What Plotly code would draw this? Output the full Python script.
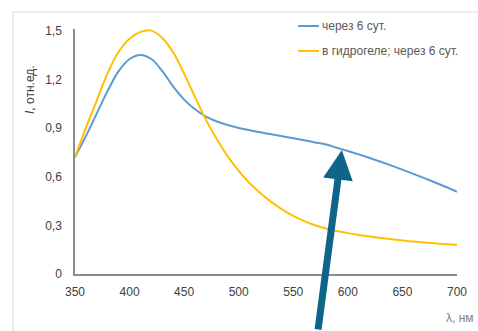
import plotly.graph_objects as go

# Data
wl = [350, 360, 370, 380, 390, 400, 410, 420, 430, 440, 450, 460, 470, 480, 490,
      500, 510, 520, 530, 540, 550, 560, 570, 580, 590, 600, 610, 620, 630,
      640, 650, 660, 670, 680, 690, 700]
i_blue = [0.72, 0.85, 0.99, 1.13, 1.25, 1.325, 1.35, 1.325, 1.25, 1.155, 1.075, 1.015,
          0.97, 0.94, 0.918, 0.90, 0.886, 0.873, 0.861, 0.849, 0.837, 0.824, 0.811,
          0.798, 0.778, 0.758, 0.737, 0.715, 0.692, 0.668, 0.643, 0.617, 0.591, 0.564,
          0.536, 0.507]
i_yellow = [0.72, 0.90, 1.07, 1.24, 1.37, 1.45, 1.492, 1.50, 1.455, 1.365, 1.235, 1.09,
            0.95, 0.83, 0.725, 0.635, 0.56, 0.497, 0.443, 0.397, 0.358, 0.326, 0.30,
            0.28, 0.265, 0.252, 0.241, 0.231, 0.222, 0.214, 0.207, 0.20, 0.194, 0.189,
            0.184, 0.18]

series_names = ["через 6 сут.", "в гидрогеле; через 6 сут."]
x_ticks = [350, 400, 450, 500, 550, 600, 650, 700]
y_ticks = [0, 0.3, 0.6, 0.9, 1.2, 1.5]
y_tick_text = ["0", "0,3", "0,6", "0,9", "1,2", "1,5"]

arrow_tip = (594.5, 0.765)

BLUE = "#5b9bd5"
YELLOW = "#ffc000"
FONT = "Liberation Sans, Arial, sans-serif"

W, H = 478, 331
L, R, T, B = 75, 21, 29, 57
pw, ph = W - L - R, H - T - B

def px(xp):
    return (xp - L) / pw

def py(yp):
    return (H - B - yp) / ph

fig = go.Figure()
fig.add_trace(go.Scatter(x=wl, y=i_blue, mode="lines", name=series_names[0],
                         line=dict(color=BLUE, width=2, shape="spline", smoothing=1),
                         showlegend=False))
fig.add_trace(go.Scatter(x=wl, y=i_yellow, mode="lines", name=series_names[1],
                         line=dict(color=YELLOW, width=2, shape="spline", smoothing=1),
                         showlegend=False))

shapes = [
    # outer light frame
    dict(type="line", xref="paper", yref="paper", x0=px(13), x1=px(W + 5), y0=py(12), y1=py(12),
         line=dict(color="#d9d9d9", width=1)),
    dict(type="line", xref="paper", yref="paper", x0=px(13), x1=px(13), y0=py(12), y1=py(H + 5),
         line=dict(color="#d9d9d9", width=1)),
    # manual legend line samples
    dict(type="line", xref="paper", yref="paper", x0=px(298), x1=px(319), y0=py(26), y1=py(26),
         line=dict(color=BLUE, width=2)),
    dict(type="line", xref="paper", yref="paper", x0=px(298), x1=px(319), y0=py(51), y1=py(51),
         line=dict(color=YELLOW, width=2)),
]

annotations = [
    dict(xref="paper", yref="paper", x=px(320), y=py(26), text=series_names[0], showarrow=False,
         xanchor="left", yanchor="middle", font=dict(family=FONT, size=12, color="#595959")),
    dict(xref="paper", yref="paper", x=px(320), y=py(51), text=series_names[1], showarrow=False,
         xanchor="left", yanchor="middle", font=dict(family=FONT, size=12, color="#595959")),
    dict(xref="paper", yref="paper", x=px(30), y=py(90), text="<i>I</i>, отн.ед.", showarrow=False,
         textangle=-90, xanchor="center", yanchor="middle",
         font=dict(family=FONT, size=12, color="#404040")),
    dict(xref="paper", yref="paper", x=px(476), y=py(318), text="λ, нм", showarrow=False,
         xanchor="right", yanchor="middle", font=dict(family=FONT, size=12, color="#7f7f7f")),
    dict(x=arrow_tip[0], y=arrow_tip[1], xref="x", yref="y", ax=-24, ay=190,
         axref="pixel", ayref="pixel", text="", showarrow=True,
         arrowhead=2, arrowsize=0.85, arrowwidth=7, arrowcolor="#0f6589"),
]

fig.update_layout(
    width=W, height=H,
    margin=dict(l=L, r=R, t=T, b=B),
    paper_bgcolor="white", plot_bgcolor="white",
    font=dict(family=FONT, size=12, color="#404040"),
    shapes=shapes, annotations=annotations,
    xaxis=dict(range=[350, 700], tickvals=x_ticks, showgrid=False, zeroline=False,
               showline=True, linecolor="#8c8c8c", linewidth=1.5,
               ticks="outside", ticklen=6, tickcolor="rgba(0,0,0,0)",
               tickfont=dict(family=FONT, size=12, color="#404040")),
    yaxis=dict(range=[0, 1.51], tickvals=y_ticks, ticktext=y_tick_text, showgrid=False,
               zeroline=False, showline=True, linecolor="#8c8c8c", linewidth=1.5,
               ticks="outside", ticklen=9, tickcolor="rgba(0,0,0,0)",
               tickfont=dict(family=FONT, size=12, color="#404040")),
)

fig.write_html("out.html")
